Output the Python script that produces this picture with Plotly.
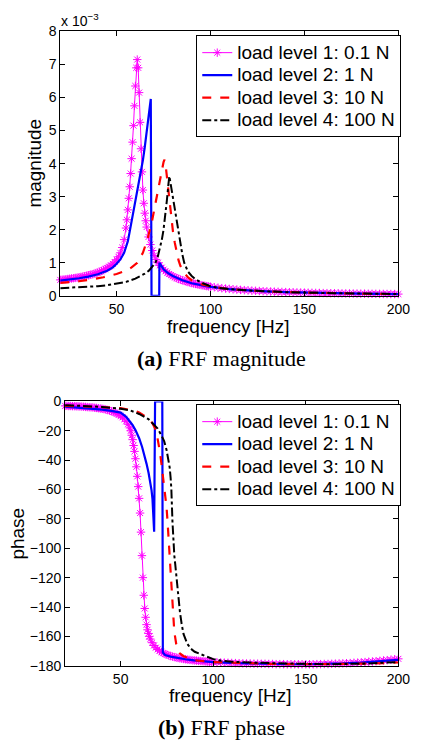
import plotly.graph_objects as go

# ---------------- data ----------------
# load level 1 (0.1 N): dense sampling, magnitude in units of 1e-3, phase in degrees
f_l1 = [20, 21, 22, 23, 24, 25, 26, 27, 28, 29, 30, 31, 32, 33, 34, 35, 36, 37, 38, 39,
        40, 41, 42, 43, 44, 45, 46, 47, 48, 49, 50, 51, 52, 53, 54,
        55, 55.5, 56, 56.5, 57, 57.5, 58, 58.5, 59, 59.5, 60, 60.5, 61, 61.5, 62, 62.5,
        63, 63.5, 64, 64.5, 65, 65.5, 66,
        67, 68, 69, 70, 71, 72, 73, 74, 75, 76, 77, 78, 79, 80, 81, 82, 83, 84, 85, 86,
        87, 88, 89, 90, 91, 92, 93, 94, 95, 96, 97, 98, 99, 100,
        102, 104, 106, 108, 110, 112, 114, 116, 118, 120, 122, 124, 126, 128, 130, 132,
        134, 136, 138, 140, 142, 144, 146, 148, 150, 152, 154, 156, 158, 160, 162, 164,
        166, 168, 170, 172, 174, 176, 178, 180, 182, 184, 186, 188, 190, 192, 194, 196,
        198, 200]
mag_l1 = [0.48, 0.487, 0.494, 0.50, 0.507, 0.515, 0.523, 0.531, 0.54, 0.55, 0.56, 0.57,
          0.58, 0.592, 0.605, 0.62, 0.635, 0.65, 0.667, 0.685,
          0.705, 0.727, 0.752, 0.78, 0.81, 0.843, 0.88, 0.92, 0.965, 1.02, 1.09, 1.18,
          1.3, 1.46, 1.7,
          2.05, 2.3, 2.6, 2.95, 3.3, 3.7, 4.15, 4.65, 5.15, 5.75, 6.35, 6.9, 7.15, 6.9,
          6.15, 5.25, 4.45, 3.75, 3.2, 2.8, 2.5, 2.27, 2.08,
          1.78, 1.55, 1.37, 1.22, 1.1, 1.0, 0.92, 0.85, 0.79, 0.74, 0.7, 0.66, 0.625,
          0.59, 0.56, 0.535, 0.51, 0.49, 0.47, 0.45, 0.432, 0.415, 0.4, 0.385, 0.371,
          0.358, 0.346, 0.334, 0.323, 0.312, 0.302, 0.292, 0.283, 0.274,
          0.258, 0.243, 0.23, 0.218, 0.207, 0.197, 0.187, 0.178, 0.17, 0.163, 0.156,
          0.15, 0.144, 0.138, 0.133, 0.128, 0.123, 0.119, 0.115, 0.111, 0.107, 0.104,
          0.1, 0.097, 0.094, 0.091, 0.089, 0.086, 0.084, 0.081, 0.079, 0.077, 0.075,
          0.073, 0.071, 0.069, 0.068, 0.066, 0.065, 0.063, 0.062, 0.06, 0.059, 0.058,
          0.057, 0.055, 0.054, 0.053, 0.052, 0.051]
ph_l1 = [-3.0, -3.0, -3.1, -3.1, -3.2, -3.2, -3.3, -3.3, -3.4, -3.5, -3.6, -3.7, -3.8,
         -3.9, -4.0, -4.1, -4.3, -4.4, -4.6, -4.8,
         -5.0, -5.2, -5.5, -5.8, -6.2, -6.6, -7.1, -7.6, -8.3, -9.0, -9.8, -10.8, -12.0,
         -13.5, -15.5,
         -18, -20, -23, -26, -30, -34, -39, -44.5, -51, -58, -66, -76, -89, -105, -120,
         -132, -141, -147, -152, -155.5, -158, -160, -161.8,
         -164.3, -166.2, -167.7, -168.9, -169.9, -170.7, -171.4, -172, -172.5, -173,
         -173.4, -173.8, -174.1, -174.4, -174.7, -175, -175.2, -175.4, -175.6, -175.8,
         -176, -176.1, -176.3, -176.4, -176.5, -176.7, -176.8, -176.9, -177, -177.1,
         -177.2, -177.3, -177.4, -177.5,
         -177.6, -177.8, -177.9, -178, -178.1, -178.2, -178.3, -178.4, -178.5, -178.5,
         -178.6, -178.6, -178.7, -178.7, -178.8, -178.8, -178.9, -178.9, -178.9, -179,
         -179, -179, -179, -179, -179, -179, -179, -178.9, -178.9, -178.8, -178.8,
         -178.7, -178.6, -178.5, -178.4, -178.3, -178.2, -178, -177.9, -177.7, -177.5,
         -177.3, -177.1, -176.9, -176.7, -176.4, -176.2, -175.9, -175.6, -175.3]

# load level 2 (1 N)
f_l2_mag = [20, 25, 30, 35, 40, 45, 48, 50, 52, 54, 55, 56, 57, 58, 59, 60, 61, 62, 63, 64,
            65, 66, 67, 68.2, 68.6, 72.7, 72.8, 74, 75, 77.5, 80, 85, 90, 95, 100, 110,
            120, 130, 140, 150, 160, 170, 180, 190, 200]
mag_l2 = [0.46, 0.49, 0.53, 0.58, 0.65, 0.76, 0.86, 0.97, 1.1, 1.3, 1.45, 1.65, 1.95,
          2.25, 2.55, 2.85, 3.1, 3.4, 3.7, 4.1, 4.5, 4.95, 5.4, 5.96, 0, 0, 1.0, 0.87,
          0.8, 0.68, 0.6, 0.47, 0.38, 0.32, 0.27, 0.2, 0.16, 0.13, 0.11, 0.094, 0.081,
          0.071, 0.063, 0.057, 0.051]
f_l2_ph = [20, 30, 40, 45, 50, 53, 56.4, 58, 60, 61.6, 63, 64, 65.1, 66, 66.7, 67.2, 67.6,
           68.1, 68.6, 72.5, 72.8, 74, 77, 80, 85, 89.6, 95, 100, 110, 120, 130, 140, 150,
           160, 170, 180, 190, 200]
ph_l2 = [-3.5, -4.3, -5.5, -6.4, -7.6, -10.5, -16, -19.5, -25, -31, -37, -42.5, -48.7,
         -55, -60.5, -66.4, -74, -88.7, 0, 0, -171, -172.7, -173.8, -174.6, -175.6,
         -176.4, -177, -177.5, -178.1, -178.5, -178.8, -179, -179, -178.8, -178.4,
         -177.8, -177, -176]

# load level 3 (10 N)
f_l3_mag = [20, 25, 30, 36, 43, 50, 55, 58, 61, 64, 66.4, 69, 70.7, 72.4, 74, 75, 75.5,
            76, 77, 78, 79, 80, 81, 82, 83, 84, 86, 88, 90, 95, 100, 110, 120, 130, 140,
            150, 160, 170, 180, 190, 200]
mag_l3 = [0.39, 0.41, 0.44, 0.49, 0.56, 0.66, 0.76, 0.86, 1.0, 1.3, 1.7, 2.3, 2.8, 3.3,
          3.8, 4.05, 4.12, 4.0, 3.5, 2.95, 2.4, 1.95, 1.6, 1.3, 1.07, 0.9, 0.69, 0.56,
          0.47, 0.35, 0.28, 0.2, 0.16, 0.13, 0.11, 0.094, 0.081, 0.071, 0.063, 0.057,
          0.051]
f_l3_ph = [20, 30, 40, 50, 55, 58, 60, 63, 65, 67, 68.5, 69.5, 70.5, 71.3, 72, 73, 74,
           74.8, 75.5, 76, 76.5, 77, 77.5, 78, 78.5, 79, 80, 81, 82, 84, 87, 90, 100, 110,
           130, 150, 170, 185, 200]
ph_l3 = [-3, -3.3, -3.8, -4.5, -5.5, -6.5, -7.5, -9.8, -11.5, -14.5, -18, -22, -28, -35,
         -42, -53, -63, -72, -85, -95, -106, -118, -130, -141, -150, -157, -165, -169,
         -171.5, -173.5, -175, -176.3, -177.5, -178, -178.7, -179, -179, -178.5, -177.8]

# load level 4 (100 N)
f_l4_mag = [20, 25, 30, 36, 40, 45, 50, 55, 60, 63, 65, 67.2, 69, 70.7, 72, 73, 74.1, 75,
            75.9, 76.8, 77.6, 78.1, 78.6, 79.3, 80, 81, 82, 83, 84, 85, 86, 87, 88, 90,
            92, 95, 98, 100, 104, 110, 120, 130, 140, 150, 160, 170, 180, 190, 200]
mag_l4 = [0.23, 0.24, 0.255, 0.27, 0.29, 0.32, 0.36, 0.42, 0.52, 0.6, 0.67, 0.76, 0.88,
          1.0, 1.2, 1.4, 1.7, 2.0, 2.4, 2.9, 3.38, 3.62, 3.45, 3.2, 3.0, 2.7, 2.25, 1.85,
          1.5, 1.25, 1.0, 0.85, 0.73, 0.6, 0.5, 0.4, 0.32, 0.29, 0.24, 0.2, 0.16, 0.13,
          0.11, 0.095, 0.082, 0.072, 0.065, 0.058, 0.053]
f_l4_ph = [20, 30, 40, 50, 55, 60, 65, 67, 70, 72, 73.5, 74.8, 75.8, 76.5, 77, 77.4, 78,
           78.5, 79, 79.5, 80, 81, 82, 83, 84, 86, 88, 90, 95, 100, 104, 110, 124, 140,
           160, 180, 190, 200]
ph_l4 = [-2.5, -3, -3.7, -5, -6, -8.5, -12, -14.5, -18.5, -23, -27, -33, -40, -45, -52,
         -60, -82, -97, -105, -111, -118, -131, -143, -152, -158.5, -165, -168.5, -170.5,
         -173, -175.5, -176.5, -177.3, -178, -178.6, -179, -178.6, -178.2, -177.5]

labels = ["load level 1: 0.1 N", "load level 2: 1 N", "load level 3: 10 N",
          "load level 4: 100 N"]
mag_x_ticks = [50, 100, 150, 200]
mag_y_ticks = [0, 1, 2, 3, 4, 5, 6, 7, 8]
ph_y_ticks = [0, -20, -40, -60, -80, -100, -120, -140, -160, -180]

# ---------------- figure ----------------
W, H = 422, 754
SANS = "Liberation Sans, Arial, Helvetica, sans-serif"
SERIF = "Liberation Serif, Times New Roman, serif"

def px(x):
    return x / W

def py(y):
    return 1 - y / H

fig = go.Figure()

series_mag = [(f_l1, mag_l1), (f_l2_mag, mag_l2), (f_l3_mag, mag_l3), (f_l4_mag, mag_l4)]
series_ph = [(f_l1, ph_l1), (f_l2_ph, ph_l2), (f_l3_ph, ph_l3), (f_l4_ph, ph_l4)]
line_styles = [
    dict(color="#FF00FF", width=1, dash="solid"),
    dict(color="#0000FF", width=2.2, dash="solid"),
    dict(color="#FF0000", width=2.2, dash="dash"),
    dict(color="#000000", width=2, dash="dashdot"),
]

for idx in range(4):
    for series, xa, ya, leg in [(series_mag, "x", "y", "legend"),
                                (series_ph, "x2", "y2", "legend2")]:
        fx, fy = series[idx]
        kw = dict(x=fx, y=fy, xaxis=xa, yaxis=ya, legend=leg, line=line_styles[idx],
                  name='<span style="font-size:19px">' + labels[idx] + '</span>')
        if idx == 0:
            kw.update(mode="lines+markers",
                      marker=dict(symbol="asterisk-open", size=7, color="#FF00FF",
                                  line=dict(color="#FF00FF", width=1)),
                      cliponaxis=False)
        else:
            kw.update(mode="lines")
        fig.add_trace(go.Scatter(**kw))

axis_common = dict(showline=True, linecolor="black", linewidth=1, mirror="ticks",
                   ticks="inside", ticklen=5, tickwidth=1, tickcolor="black",
                   showgrid=False, zeroline=False,
                   tickfont=dict(family=SANS, size=14, color="black"))

legend_common = dict(xanchor="left", yanchor="top", bordercolor="black", borderwidth=1,
                     bgcolor="white", font=dict(family=SANS, size=15, color="black"),
                     itemwidth=30, tracegroupgap=0)

fig.update_layout(
    width=W, height=H, margin=dict(l=0, r=0, t=0, b=0),
    paper_bgcolor="white", plot_bgcolor="white",
    xaxis=dict(domain=[px(62), px(410)], range=[20, 200], tickvals=mag_x_ticks,
               anchor="y", **axis_common),
    yaxis=dict(domain=[py(294), py(24)], range=[0, 8], tickvals=mag_y_ticks,
               anchor="x", **axis_common),
    xaxis2=dict(domain=[px(67), px(410)], range=[20, 200], tickvals=mag_x_ticks,
                anchor="y2", **axis_common),
    yaxis2=dict(domain=[py(672), py(402)], range=[-180, 0], tickvals=ph_y_ticks,
                ticktext=[("\u2212" + str(-v)) if v < 0 else str(v) for v in ph_y_ticks],
                anchor="x2", **axis_common),
    legend=dict(x=px(202), y=py(28), **legend_common),
    legend2=dict(x=px(202), y=py(405), **legend_common),
    showlegend=True,
)

ann = [
    dict(text="x 10<sup>\u22123</sup>", x=px(61), y=py(23), xanchor="left",
         yanchor="bottom", font=dict(family=SANS, size=14, color="black")),
    dict(text="magnitude", x=px(36), y=py(158), textangle=-90, xanchor="center",
         yanchor="middle", font=dict(family=SANS, size=19, color="black")),
    dict(text="phase", x=px(18.5), y=py(537), textangle=-90, xanchor="center",
         yanchor="middle", font=dict(family=SANS, size=19, color="black")),
    dict(text="frequency [Hz]", x=px(235), y=py(325), xanchor="center",
         yanchor="middle", font=dict(family=SANS, size=19, color="black")),
    dict(text="frequency [Hz]", x=px(237.5), y=py(702), xanchor="center",
         yanchor="middle", font=dict(family=SANS, size=19, color="black")),
    dict(text="<b>(a)</b> FRF magnitude", x=px(228), y=py(358), xanchor="center",
         yanchor="middle", font=dict(family=SERIF, size=22, color="black")),
    dict(text="<b>(b)</b> FRF phase", x=px(228), y=py(735), xanchor="center",
         yanchor="middle", font=dict(family=SERIF, size=22, color="black")),
]
for a in ann:
    a.update(xref="paper", yref="paper", showarrow=False)
fig.update_layout(annotations=ann)

fig.write_html("out.html")
